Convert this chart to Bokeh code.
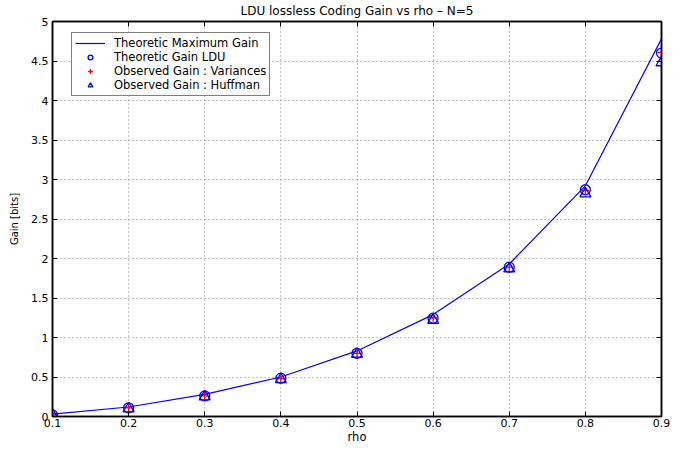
from bokeh.plotting import figure
from bokeh.models import Range1d, LinearAxis, FixedTicker, Legend, LegendItem
from bokeh.embed import file_html
from bokeh.resources import INLINE

rho = [0.1, 0.2, 0.3, 0.4, 0.5, 0.6, 0.7, 0.8, 0.9]
theoretic_max = [0.03, 0.12, 0.28, 0.50, 0.83, 1.29, 1.93, 2.92, 4.78]
theoretic_ldu = [0.02, 0.11, 0.26, 0.485, 0.80, 1.245, 1.89, 2.87, 4.60]
observed_var = [0.02, 0.11, 0.26, 0.48, 0.80, 1.25, 1.89, 2.86, 4.61]
observed_huff = [0.02, 0.10, 0.25, 0.47, 0.79, 1.22, 1.87, 2.82, 4.48]
x_ticks = [0.1, 0.2, 0.3, 0.4, 0.5, 0.6, 0.7, 0.8, 0.9]
y_ticks = [0, 0.5, 1, 1.5, 2, 2.5, 3, 3.5, 4, 4.5, 5]

FONT = "DejaVu Sans"

p = figure(width=677, height=446, output_backend="svg", toolbar_location=None,
           x_range=Range1d(0.1, 0.9), y_range=Range1d(0, 5),
           x_axis_label="rho", y_axis_label="Gain [bits]",
           min_border_left=52, min_border_right=16, min_border_top=21, min_border_bottom=27)
p.title = None
p.background_fill_color = "white"
p.border_fill_color = "white"
p.outline_line_color = "black"
p.outline_line_width = 1.5

def style_axis(ax, ticks, show_labels=True):
    ax.ticker = FixedTicker(ticks=ticks)
    ax.major_tick_in = 5
    ax.major_tick_out = 0
    ax.minor_tick_line_color = None
    ax.axis_line_color = "black"
    ax.axis_line_width = 1.5
    ax.major_tick_line_color = "black"
    ax.major_label_text_font = FONT
    ax.major_label_text_font_size = "11px"
    ax.major_label_text_color = "black"
    ax.major_label_standoff = 2 if show_labels else 0
    if not show_labels:
        ax.major_label_overrides = {t: "" for t in ticks}
    ax.axis_label_text_font = FONT
    ax.axis_label_text_font_style = "normal"
    ax.axis_label_text_color = "black"

style_axis(p.xaxis[0], x_ticks)
style_axis(p.yaxis[0], y_ticks)
p.xaxis[0].axis_label_text_font_size = "11.5px"
p.xaxis[0].axis_label_standoff = 0
p.yaxis[0].major_label_standoff = 4
p.yaxis[0].axis_label_text_font_size = "10px"
p.yaxis[0].axis_label_standoff = 8

top = LinearAxis(axis_label="LDU lossless Coding Gain vs rho \u2013 N=5")
style_axis(top, x_ticks, show_labels=False)
top.axis_label_text_font_size = "12px"
top.axis_label_standoff = 4
p.add_layout(top, "above")

right = LinearAxis()
style_axis(right, y_ticks, show_labels=False)
p.add_layout(right, "right")

for g in (p.xgrid[0], p.ygrid[0]):
    g.grid_line_color = "#888888"
    g.grid_line_dash = "1 3"
    g.grid_line_width = 1
p.xgrid[0].ticker = FixedTicker(ticks=x_ticks)
p.ygrid[0].ticker = FixedTicker(ticks=y_ticks)

r_line = p.line(rho, theoretic_max, line_color="#0000ff", line_width=1.2)
r_circ = p.scatter(rho, theoretic_ldu, marker="circle", size=10, fill_color=None,
                   line_color="#0000ff", line_width=1.3)
r_plus = p.scatter(rho, observed_var, marker="cross", size=8, line_color="#ff0000", line_width=1.3)
r_tri = p.scatter(rho, observed_huff, marker="triangle", size=11, fill_color=None,
                  line_color="#0000ff", line_width=1.3)

legend = Legend(items=[
    LegendItem(label="Theoretic Maximum Gain", renderers=[r_line]),
    LegendItem(label="Theoretic Gain LDU", renderers=[r_circ]),
    LegendItem(label="Observed Gain : Variances", renderers=[r_plus]),
    LegendItem(label="Observed Gain : Huffman", renderers=[r_tri]),
], location=(19, 320))
legend.label_text_font = FONT
legend.label_text_font_size = "11.5px"
legend.label_text_color = "black"
legend.border_line_color = "black"
legend.border_line_width = 1.3
legend.background_fill_color = "white"
legend.background_fill_alpha = 1
legend.padding = 3
legend.spacing = 0
legend.glyph_height = 12
legend.label_height = 12
legend.glyph_width = 30
legend.label_standoff = 9
legend.margin = 0
p.add_layout(legend, "center")

open("out.html", "w").write(file_html(p, INLINE))
